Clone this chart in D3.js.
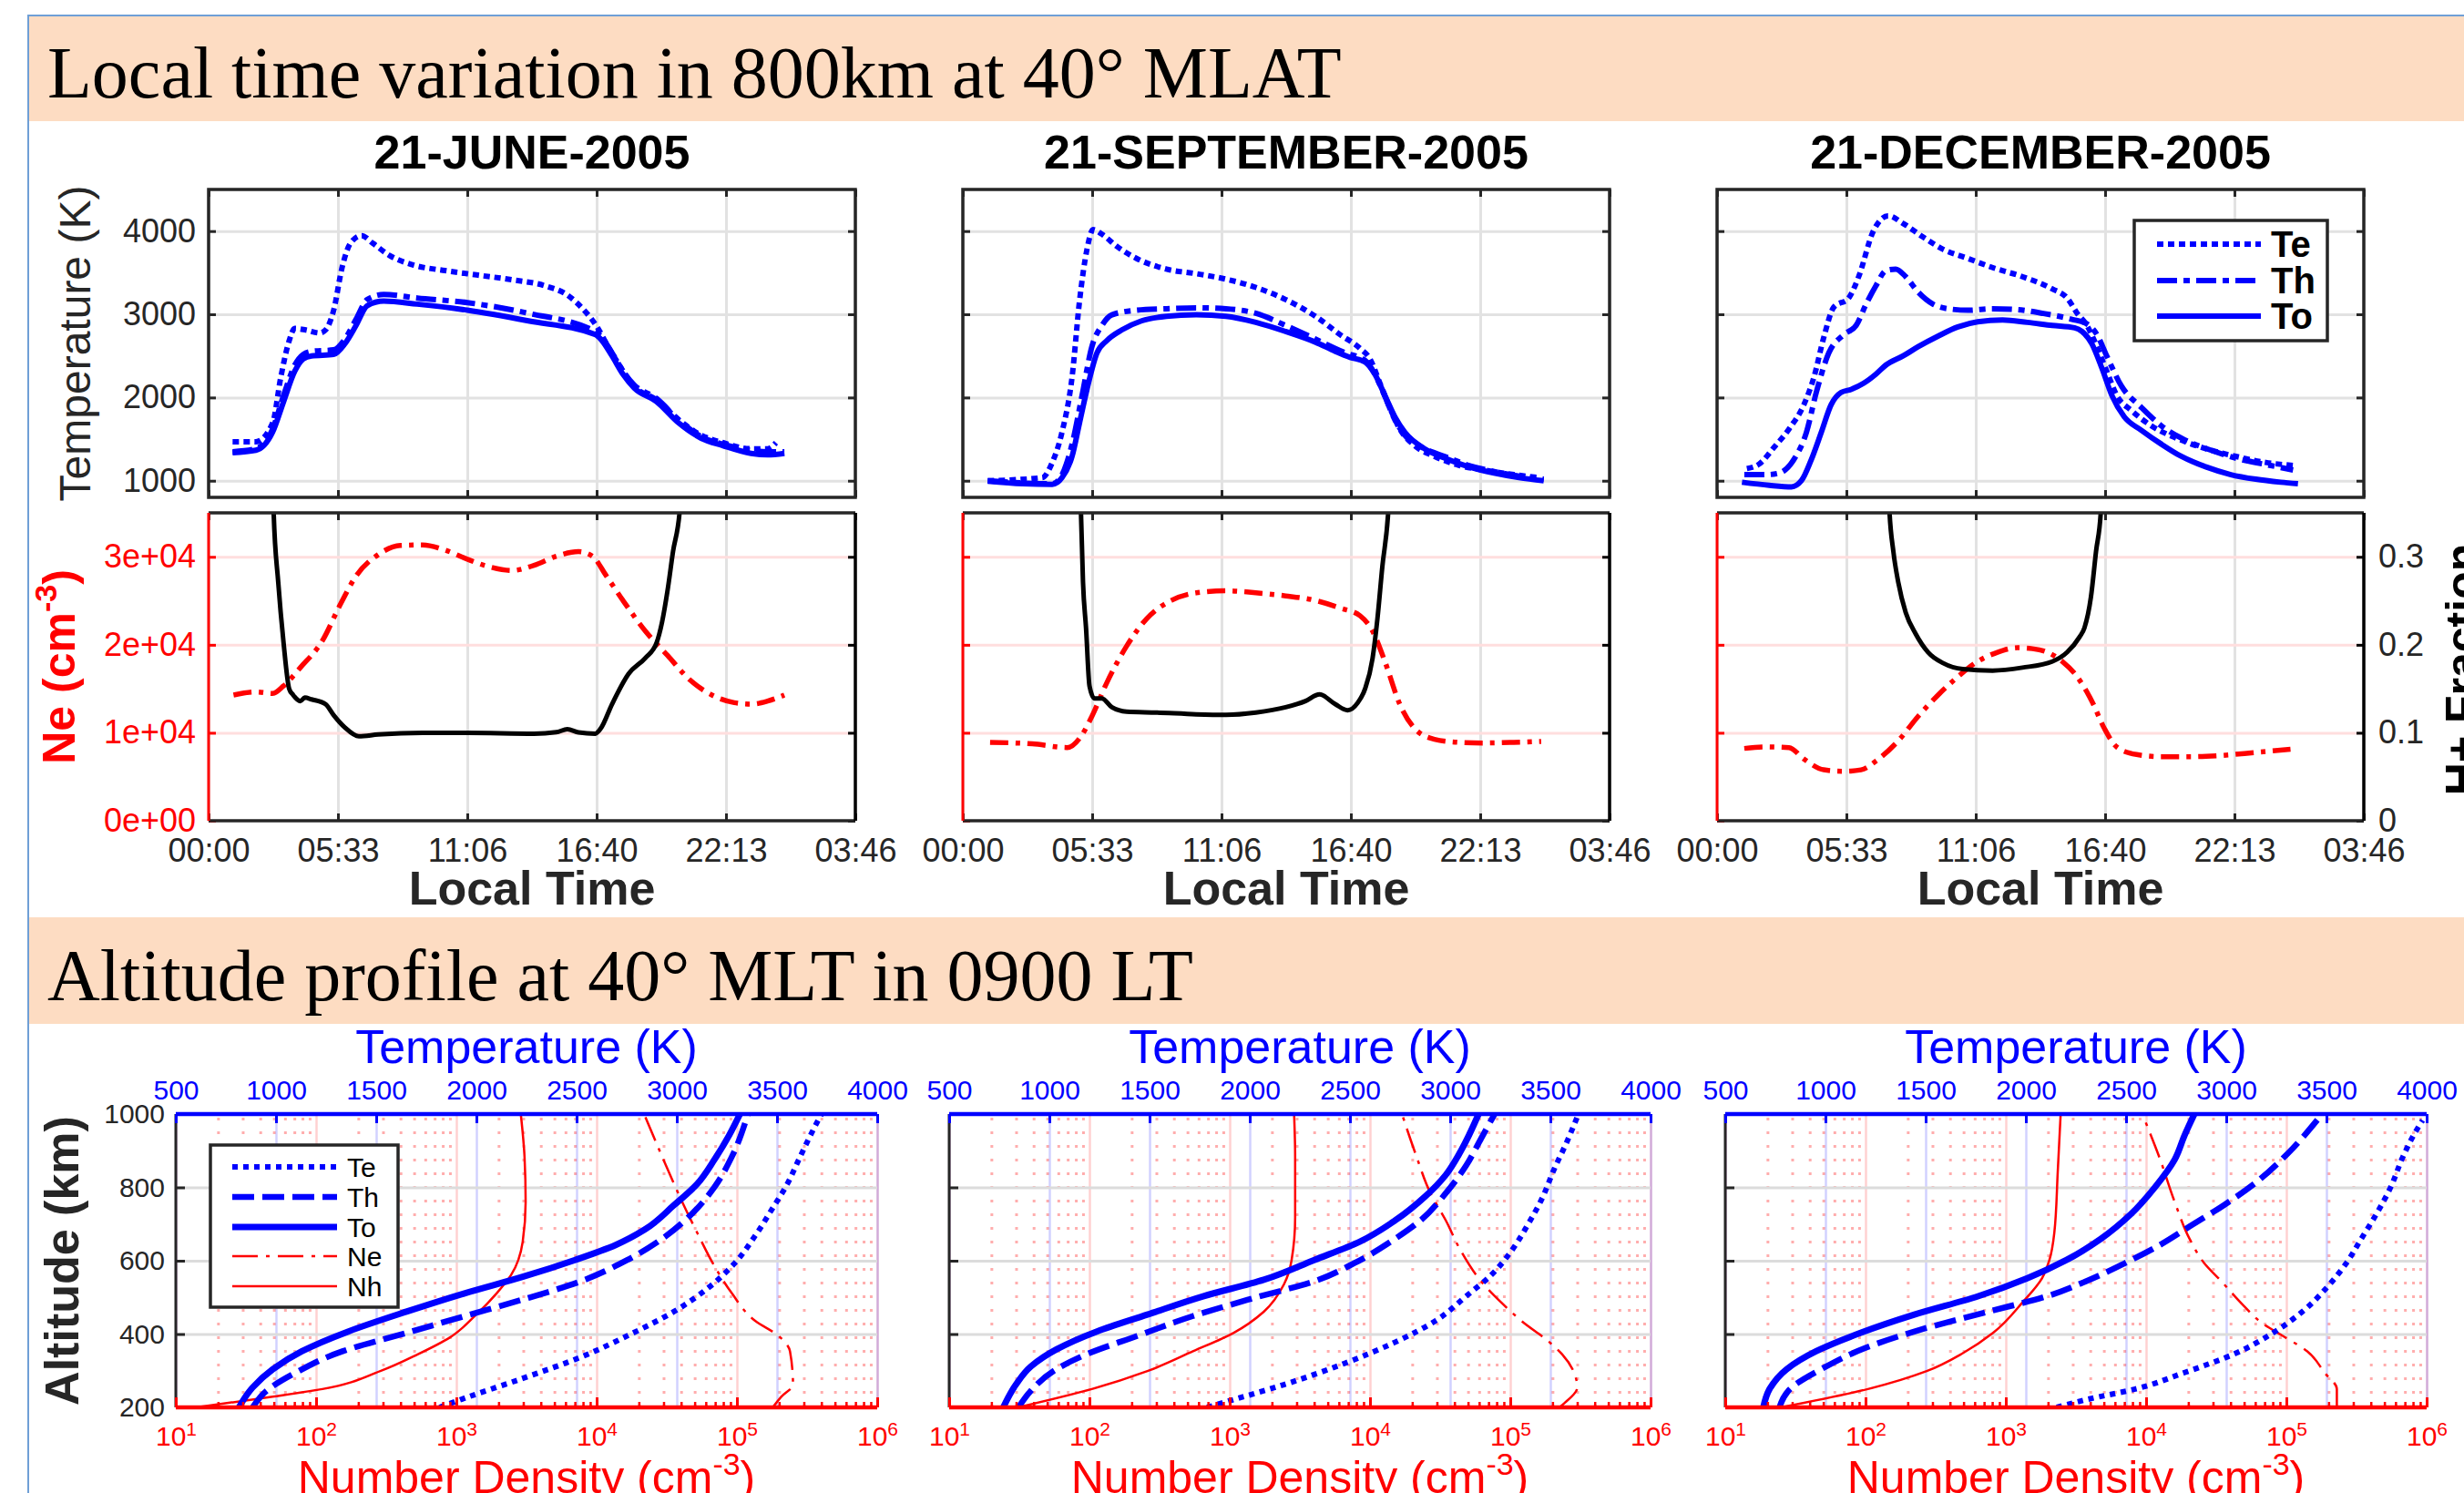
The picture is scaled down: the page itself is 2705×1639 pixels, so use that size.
<!DOCTYPE html>
<html>
<head>
<meta charset="utf-8">
<script src="https://cdn.jsdelivr.net/npm/d3@7/dist/d3.min.js"></script>
<style>html,body{margin:0;padding:0;background:#fff;}svg{display:block;}</style>
</head>
<body>
<script>
// ---------------- DATA ----------------
const bannerTitles = ["Local time variation in 800km at 40\u00B0 MLAT", "Altitude profile at 40\u00B0 MLT in 0900 LT"];
const panelTitles = ["21-JUNE-2005", "21-SEPTEMBER-2005", "21-DECEMBER-2005"];
const timeTicks = [0, 5.5533, 11.1067, 16.66, 22.2133, 27.7667];
const timeTickLabels = ["00:00", "05:33", "11:06", "16:40", "22:13", "03:46"];
const tempTicks = [1000, 2000, 3000, 4000];
const neTicks = [0, 10000, 20000, 30000];
const neTickLabels = ["0e+00", "1e+04", "2e+04", "3e+04"];
const hfTicks = [0, 0.1, 0.2, 0.3];
const hfTickLabels = ["0", "0.1", "0.2", "0.3"];
const tempLegend = ["Te", "Th", "To"];
const profLegend = ["Te", "Th", "To", "Ne", "Nh"];
const profTempTicks = [500, 1000, 1500, 2000, 2500, 3000, 3500, 4000];
const altTicks = [200, 400, 600, 800, 1000];
const densDecades = [10, 100, 1000, 10000, 100000, 1000000];

// local time (hours) vs temperature (K)
const juneTe = [[1.03,1468],[2.03,1468],[2.75,1695],[3.10,2244],[3.46,2683],[3.70,2830],[4.18,2811],[4.78,2775],[5.02,2811],[5.37,3049],[5.73,3561],[6.09,3854],[6.57,3945],[7.05,3854],[7.76,3708],[8.72,3598],[10.15,3525],[11.58,3470],[13.02,3415],[14.45,3342],[15.40,3232],[16.12,3049],[16.72,2830],[17.08,2646],[17.55,2427],[18.27,2134],[19.23,1970],[20.18,1732],[21.14,1549],[22.09,1457],[23.29,1384],[24.00,1384],[24.36,1457]];
const juneTh = [[1.03,1348],[2.03,1384],[2.75,1622],[3.22,2025],[3.70,2390],[4.06,2518],[4.42,2555],[5.37,2573],[5.85,2701],[6.33,2939],[6.81,3177],[7.52,3239],[8.96,3195],[11.11,3140],[13.73,3012],[16.60,2793],[16.84,2738],[17.32,2537],[17.79,2317],[18.27,2152],[19.23,1988],[20.18,1732],[21.14,1531],[22.09,1439],[23.29,1366],[24.00,1348],[24.72,1348]];
const juneTo = [[1.03,1337],[2.03,1366],[2.75,1585],[3.22,1951],[3.70,2317],[4.06,2463],[4.42,2500],[5.37,2518],[5.85,2646],[6.33,2866],[6.81,3104],[7.52,3159],[8.96,3122],[11.11,3049],[13.73,2921],[16.60,2756],[16.84,2701],[17.32,2500],[17.79,2280],[18.27,2116],[19.23,1951],[20.18,1695],[21.14,1512],[22.09,1421],[23.29,1329],[24.00,1311],[24.72,1329]];
const sepTe = [[1.07,1000],[3.41,1037],[3.84,1220],[4.26,1585],[4.69,2244],[5.01,3159],[5.33,3780],[5.59,4018],[5.97,3963],[6.61,3817],[7.46,3671],[8.74,3543],[10.02,3488],[11.30,3422],[12.58,3323],[13.86,3177],[15.14,2976],[16.20,2756],[17.05,2591],[17.48,2463],[17.91,2171],[18.33,1878],[18.76,1622],[19.40,1421],[20.25,1293],[21.32,1183],[22.38,1128],[23.66,1073],[24.73,1037]];
const sepTh = [[1.07,1000],[3.84,963],[4.26,1073],[4.69,1439],[5.12,2025],[5.54,2610],[5.97,2866],[6.40,2994],[7.46,3049],[8.74,3067],[10.02,3078],[11.30,3067],[12.58,3012],[13.86,2866],[15.14,2701],[16.41,2537],[17.27,2445],[17.69,2281],[18.12,2014],[18.55,1732],[18.97,1549],[19.83,1384],[20.68,1293],[21.74,1183],[22.81,1110],[23.88,1055],[24.94,1018]];
const sepTo = [[1.07,993],[2.56,963],[3.84,956],[4.26,1037],[4.69,1293],[5.01,1695],[5.33,2098],[5.76,2537],[6.18,2683],[6.82,2811],[7.67,2921],[8.74,2976],[10.02,2994],[11.30,2976],[12.58,2903],[13.86,2793],[15.14,2665],[15.99,2555],[16.63,2482],[17.27,2427],[17.69,2281],[18.12,2025],[18.55,1768],[18.97,1585],[19.83,1384],[20.68,1274],[21.74,1165],[22.81,1091],[23.88,1037],[24.94,1000]];
const decTe = [[1.28,1146],[1.81,1201],[2.45,1402],[3.09,1622],[3.73,1915],[4.16,2244],[4.58,2720],[5.01,3085],[5.65,3195],[6.08,3452],[6.71,4000],[7.35,4183],[7.99,4091],[8.85,3927],[9.70,3781],[10.77,3671],[11.83,3561],[13.11,3452],[14.39,3305],[15.03,3195],[15.46,3012],[15.88,2866],[16.31,2610],[16.73,2317],[17.16,2025],[17.80,1842],[18.65,1659],[19.72,1512],[20.99,1384],[22.27,1293],[23.55,1220],[24.73,1183]];
const decTh = [[1.17,1073],[2.13,1073],[2.66,1091],[3.30,1256],[3.84,1585],[4.26,2061],[4.80,2537],[5.44,2756],[5.97,2866],[6.40,3122],[6.82,3342],[7.25,3525],[7.67,3543],[8.10,3452],[8.63,3268],[9.27,3122],[9.91,3067],[10.77,3049],[11.83,3067],[12.90,3056],[13.97,3012],[15.24,2939],[15.88,2884],[16.31,2756],[16.73,2500],[17.37,2134],[18.23,1878],[19.08,1659],[19.93,1512],[21.21,1366],[22.49,1256],[23.77,1183],[24.73,1128]];
const decTo = [[1.07,982],[2.24,945],[3.20,927],[3.62,1000],[4.05,1256],[4.48,1585],[4.90,1915],[5.33,2061],[5.76,2098],[6.29,2171],[6.82,2281],[7.25,2390],[7.99,2500],[8.63,2610],[9.49,2738],[10.34,2848],[11.19,2910],[12.26,2932],[13.32,2903],[14.39,2866],[15.35,2837],[15.67,2793],[16.09,2646],[16.52,2354],[16.95,2025],[17.48,1768],[18.23,1604],[19.08,1439],[19.93,1293],[21.00,1165],[22.06,1073],[23.13,1018],[24.20,982],[24.94,963]];

// local time (hours) vs electron density (cm^-3)
const juneNe = [[1.07,14290],[2.03,14640],[2.75,14460],[3.22,15330],[3.94,17410],[4.90,20530],[5.61,24350],[6.33,27820],[7.28,30250],[8.24,31290],[9.19,31360],[10.15,30770],[11.11,29730],[12.06,28860],[13.02,28440],[13.97,29030],[14.93,30070],[15.88,30590],[16.48,30070],[17.08,27820],[17.79,25040],[18.75,21570],[19.70,18800],[20.66,16020],[21.61,14290],[22.57,13420],[23.29,13250],[24.00,13600],[24.72,14290]];
const sepNe = [[1.17,8910],[2.98,8740],[4.48,8320],[5.12,9780],[5.54,11860],[6.18,15680],[7.03,19840],[7.89,22960],[8.95,25040],[10.02,25910],[11.30,26150],[12.58,25910],[13.86,25560],[15.14,25040],[16.20,24180],[17.05,23310],[17.59,21570],[18.12,18110],[18.76,13250],[19.40,10480],[20.25,9260],[21.32,8910],[22.38,8840],[23.66,8910],[24.83,9020]];
const decNe = [[1.17,8220],[2.03,8390],[3.09,8320],[3.73,7010],[4.58,5790],[5.44,5620],[6.18,5790],[6.93,7010],[7.78,9090],[8.63,11860],[9.49,14290],[10.34,16370],[11.19,18110],[12.04,19150],[12.90,19670],[13.54,19560],[14.18,19150],[14.82,18110],[15.46,16370],[16.09,13600],[16.63,10480],[17.16,8390],[18.01,7530],[19.08,7280],[20.36,7280],[21.64,7420],[23.13,7770],[24.62,8120]];

// local time (hours) vs H+ fraction
const juneHf = [[2.70,0.45],[2.79,0.353],[2.99,0.271],[3.22,0.202],[3.46,0.150],[3.63,0.143],[3.94,0.136],[4.13,0.140],[4.42,0.138],[5.02,0.1325],[5.37,0.120],[5.85,0.106],[6.45,0.096],[7.28,0.098],[9.19,0.100],[11.11,0.100],[13.97,0.099],[14.93,0.1006],[15.40,0.104],[15.88,0.1005],[16.60,0.099],[16.84,0.105],[17.32,0.1325],[18.03,0.167],[18.75,0.185],[19.23,0.202],[19.47,0.226],[19.70,0.261],[19.94,0.306],[20.23,0.353],[20.40,0.42]];
const sepHf = [[4.98,0.45],[5.07,0.353],[5.16,0.271],[5.29,0.219],[5.44,0.153],[5.65,0.139],[5.97,0.139],[6.40,0.129],[7.03,0.124],[8.31,0.123],[10.02,0.121],[11.30,0.1204],[12.58,0.123],[13.86,0.129],[14.71,0.136],[15.31,0.1436],[15.99,0.1325],[16.52,0.1256],[16.95,0.134],[17.27,0.150],[17.59,0.1845],[17.80,0.2296],[18.01,0.2886],[18.27,0.353],[18.40,0.42]];
const decHf = [[7.30,0.42],[7.40,0.353],[7.57,0.306],[7.78,0.271],[8.10,0.2366],[8.53,0.2123],[9.06,0.1915],[9.70,0.1793],[10.55,0.1724],[11.83,0.1707],[13.11,0.1741],[14.39,0.181],[15.03,0.1915],[15.56,0.2088],[15.77,0.219],[16.05,0.254],[16.27,0.306],[16.48,0.353],[16.58,0.42]];

// altitude (km) vs temperature (K)
const junProfTe = [[200,1816],[225,1941],[279,2231],[337,2521],[403,2782],[461,2985],[527,3159],[594,3290],[668,3391],[743,3478],[809,3551],[876,3609],[942,3667],[988,3710],[1000,3722]];
const junProfTh = [[200,883],[246,955],[295,1100],[353,1332],[403,1651],[449,1941],[494,2231],[544,2521],[602,2753],[660,2927],[726,3072],[801,3188],[884,3275],[1000,3355]];
const junProfTo = [[200,815],[254,883],[304,984],[353,1129],[407,1361],[461,1651],[511,1941],[556,2231],[602,2492],[643,2695],[685,2840],[751,2985],[809,3101],[876,3188],[942,3261],[1000,3315]];
const sepProfTe = [[200,1787],[221,1918],[262,2170],[320,2473],[378,2726],[436,2927],[503,3079],[561,3205],[627,3306],[693,3382],[768,3457],[851,3520],[926,3584],[992,3634]];
const sepProfTh = [[200,846],[246,909],[304,1035],[345,1186],[395,1439],[449,1716],[498,2019],[544,2322],[594,2524],[660,2726],[710,2852],[784,2978],[859,3079],[934,3155],[1000,3222]];
const sepProfTo = [[200,770],[262,833],[312,909],[358,1035],[407,1237],[453,1489],[503,1767],[548,2070],[602,2322],[652,2549],[710,2726],[776,2877],[834,2978],[900,3054],[1000,3142]];
const decProfTe = [[200,2154],[221,2301],[250,2546],[295,2792],[345,3037],[403,3233],[461,3380],[527,3502],[594,3600],[660,3674],[726,3748],[801,3821],[884,3882],[950,3943],[983,3980]];
const decProfTh = [[200,770],[254,831],[304,978],[362,1199],[411,1468],[461,1811],[503,2105],[544,2301],[594,2497],[643,2669],[693,2816],[751,2987],[818,3159],[892,3306],[1000,3478]];
const decProfTo = [[200,690],[250,721],[304,806],[353,953],[403,1174],[453,1444],[503,1762],[552,2007],[602,2203],[660,2375],[726,2522],[801,2645],[876,2743],[942,2792],[1000,2841]];

// altitude (km) vs number density (cm^-3)
const junProfNe = [[200,180000],[229,207000],[262,251000],[353,239000],[395,198000],[436,135000],[511,92100],[585,69200],[677,52000],[776,39000],[884,29300],[1000,21800]];
const junProfNh = [[200,14],[229,49],[250,111],[299,287],[345,533],[391,902],[453,1386],[511,1936],[561,2456],[652,2972],[760,3118],[884,3061],[1000,2880]];
const sepProfNe = [[200,224000],[212,244000],[254,300000],[345,234000],[378,190000],[436,120000],[486,86300],[544,61900],[627,44400],[710,34700],[784,27000],[892,21100],[1000,16900]];
const sepProfNh = [[200,31],[250,104],[299,259],[353,547],[403,1062],[461,1749],[536,2439],[602,2762],[718,2927],[884,2927],[1000,2877]];
const decProfNe = [[200,229000],[250,229000],[295,187000],[353,141000],[395,94200],[428,68200],[478,49400],[544,34400],[594,25900],[660,20400],[760,16000],[876,12600],[1000,9400]];
const decProfNh = [[200,25],[250,104],[299,273],[349,500],[403,810],[486,1313],[552,1811],[602,2046],[677,2218],[842,2345],[1000,2460]];

// ---------------- DRAWING ----------------
const W = 2705, H = 1639;
const SANS = "'Liberation Sans', Arial, Helvetica, sans-serif";
const SERIF = "'Liberation Serif', 'Times New Roman', serif";
const AX = "#262626", BLUE = "#0000ff", RED = "#ff0000";
const fmtInt = d3.format("d");

const svg = d3.select("body").append("svg").attr("width", W).attr("height", H);
const defs = svg.append("defs");
svg.append("rect").attr("width", W).attr("height", H).attr("fill", "#fff");

// frame + banners
[[18, 133, 107], [1007, 1124, 1098]].forEach((b, i) => {
  svg.append("rect").attr("x", 31).attr("y", b[0]).attr("width", W - 31).attr("height", b[1] - b[0]).attr("fill", "#fddcc2");
  svg.append("text").attr("x", 52).attr("y", b[2]).attr("font-family", SERIF).attr("font-size", 80)
    .attr("fill", "#000").text(bannerTitles[i]);
});
svg.append("line").attr("x1", 31).attr("x2", 31).attr("y1", 17).attr("y2", H).attr("stroke", "#6f9fd6").attr("stroke-width", 2);
svg.append("line").attr("x1", 30).attr("x2", W).attr("y1", 17).attr("y2", 17).attr("stroke", "#6f9fd6").attr("stroke-width", 2);

function cleanAxis(g, color, width) {
  g.select(".domain").remove();
  g.selectAll(".tick line").attr("stroke", color).attr("stroke-width", width);
  g.selectAll(".tick text").filter(function () { return !this.textContent; }).remove();
  return g;
}
function styleText(g, color, size, weight) {
  g.selectAll(".tick text").attr("fill", color).attr("font-size", size)
    .attr("font-family", SANS).attr("font-weight", weight || "normal");
  return g;
}
function addPath(g, d, color, width, dash) {
  const p = g.append("path").attr("d", d).attr("fill", "none").attr("stroke", color)
    .attr("stroke-width", width).attr("stroke-linejoin", "round");
  if (dash) p.attr("stroke-dasharray", dash);
  return p;
}

// style definitions for series
const topStyle = {
  te: { c: BLUE, w: 6, dash: "7,5" },
  th: { c: BLUE, w: 6, dash: "22,7,7,7" },
  to: { c: BLUE, w: 6, dash: null },
  ne: { c: RED, w: 5.5, dash: "20,8,5,8" },
  hf: { c: "#000", w: 5, dash: null }
};
const profStyle = {
  te: { c: BLUE, w: 6, dash: "6,6" },
  th: { c: BLUE, w: 6.5, dash: "24,9" },
  to: { c: BLUE, w: 7, dash: null },
  ne: { c: RED, w: 2.5, dash: "28,9,4,9" },
  nh: { c: RED, w: 2.5, dash: null }
};

// ---- top row ----
const topLefts = [229, 1057, 1885], topW = 710;
const tTop = 208, tBot = 546, nTop = 563, nBot = 901;
const topSets = [
  { te: juneTe, th: juneTh, to: juneTo, ne: juneNe, hf: juneHf },
  { te: sepTe, th: sepTh, to: sepTo, ne: sepNe, hf: sepHf },
  { te: decTe, th: decTh, to: decTo, ne: decNe, hf: decHf }
];

topLefts.forEach((x0, i) => {
  const S = topSets[i];
  const x = d3.scaleLinear().domain([0, 27.7667]).range([x0, x0 + topW]);
  const yT = d3.scaleLinear().domain([800, 4500]).range([tBot, tTop]);
  const yN = d3.scaleLinear().domain([0, 35000]).range([nBot, nTop]);
  const yH = d3.scaleLinear().domain([0, 0.35]).range([nBot, nTop]);

  svg.append("text").attr("x", x0 + topW / 2).attr("y", 185).attr("text-anchor", "middle")
    .attr("font-family", SANS).attr("font-weight", "bold").attr("font-size", 52).attr("fill", "#000")
    .text(panelTitles[i]);

  // grids
  cleanAxis(svg.append("g").attr("transform", `translate(0,${tBot})`)
    .call(d3.axisBottom(x).tickValues(timeTicks).tickSize(-(tBot - tTop)).tickFormat("")), "#e2e2e2", 3);
  cleanAxis(svg.append("g").attr("transform", `translate(${x0},0)`)
    .call(d3.axisLeft(yT).tickValues(tempTicks).tickSize(-topW).tickFormat("")), "#e2e2e2", 3);
  cleanAxis(svg.append("g").attr("transform", `translate(0,${nBot})`)
    .call(d3.axisBottom(x).tickValues(timeTicks).tickSize(-(nBot - nTop)).tickFormat("")), "#e2e2e2", 3);
  cleanAxis(svg.append("g").attr("transform", `translate(${x0},0)`)
    .call(d3.axisLeft(yN).tickValues(neTicks.slice(1)).tickSize(-topW).tickFormat("")), "#ffdede", 3);

  // clips
  defs.append("clipPath").attr("id", "cT" + i).append("rect").attr("x", x0).attr("y", tTop).attr("width", topW).attr("height", tBot - tTop);
  defs.append("clipPath").attr("id", "cN" + i).append("rect").attr("x", x0).attr("y", nTop).attr("width", topW).attr("height", nBot - nTop);

  const lineT = d3.line().x(d => x(d[0])).y(d => yT(d[1])).curve(d3.curveMonotoneX);
  const lineN = d3.line().x(d => x(d[0])).y(d => yN(d[1])).curve(d3.curveMonotoneX);
  const lineH = d3.line().x(d => x(d[0])).y(d => yH(d[1])).curve(d3.curveMonotoneX);

  const gT = svg.append("g").attr("clip-path", `url(#cT${i})`);
  addPath(gT, lineT(S.te), topStyle.te.c, topStyle.te.w, topStyle.te.dash);
  addPath(gT, lineT(S.th), topStyle.th.c, topStyle.th.w, topStyle.th.dash);
  addPath(gT, lineT(S.to), topStyle.to.c, topStyle.to.w, topStyle.to.dash);

  const gN = svg.append("g").attr("clip-path", `url(#cN${i})`);
  addPath(gN, lineN(S.ne), topStyle.ne.c, topStyle.ne.w, topStyle.ne.dash);
  addPath(gN, lineH(S.hf), topStyle.hf.c, topStyle.hf.w, topStyle.hf.dash);

  // temperature axes ticks
  const tl = svg.append("g").attr("transform", `translate(${x0},0)`)
    .call(d3.axisLeft(yT).tickValues(tempTicks).tickSizeInner(-8).tickSizeOuter(0).tickPadding(14)
      .tickFormat(i === 0 ? fmtInt : ""));
  cleanAxis(tl, AX, 3);
  styleText(tl, AX, 36);
  cleanAxis(svg.append("g").attr("transform", `translate(${x0 + topW},0)`)
    .call(d3.axisRight(yT).tickValues(tempTicks).tickSizeInner(-8).tickSizeOuter(0).tickFormat("")), AX, 3);
  cleanAxis(svg.append("g").attr("transform", `translate(0,${tTop})`)
    .call(d3.axisTop(x).tickValues(timeTicks).tickSizeInner(-8).tickSizeOuter(0).tickFormat("")), AX, 3);
  cleanAxis(svg.append("g").attr("transform", `translate(0,${tBot})`)
    .call(d3.axisBottom(x).tickValues(timeTicks).tickSizeInner(-8).tickSizeOuter(0).tickFormat("")), AX, 3);
  svg.append("rect").attr("x", x0).attr("y", tTop).attr("width", topW).attr("height", tBot - tTop)
    .attr("fill", "none").attr("stroke", AX).attr("stroke-width", 3.5);

  // Ne axes
  const nl = svg.append("g").attr("transform", `translate(${x0},0)`)
    .call(d3.axisLeft(yN).tickValues(neTicks).tickSizeInner(-8).tickSizeOuter(0).tickPadding(14)
      .tickFormat((d, k) => i === 0 ? neTickLabels[k] : ""));
  cleanAxis(nl, RED, 3);
  styleText(nl, RED, 36);
  const nr = svg.append("g").attr("transform", `translate(${x0 + topW},0)`)
    .call(d3.axisRight(yH).tickValues(hfTicks).tickSizeInner(-8).tickSizeOuter(0).tickPadding(16)
      .tickFormat((d, k) => i === 2 ? hfTickLabels[k] : ""));
  cleanAxis(nr, "#000", 3);
  styleText(nr, AX, 36);
  cleanAxis(svg.append("g").attr("transform", `translate(0,${nTop})`)
    .call(d3.axisTop(x).tickValues(timeTicks).tickSizeInner(-8).tickSizeOuter(0).tickFormat("")), AX, 3);
  const nb = svg.append("g").attr("transform", `translate(0,${nBot})`)
    .call(d3.axisBottom(x).tickValues(timeTicks).tickSizeInner(-8).tickSizeOuter(0).tickPadding(19)
      .tickFormat((d, k) => timeTickLabels[k]));
  cleanAxis(nb, AX, 3);
  styleText(nb, AX, 36);
  svg.append("line").attr("x1", x0).attr("x2", x0 + topW).attr("y1", nTop).attr("y2", nTop).attr("stroke", AX).attr("stroke-width", 3.5);
  svg.append("line").attr("x1", x0).attr("x2", x0 + topW).attr("y1", nBot).attr("y2", nBot).attr("stroke", AX).attr("stroke-width", 3.5);
  svg.append("line").attr("x1", x0 + topW).attr("x2", x0 + topW).attr("y1", nTop).attr("y2", nBot).attr("stroke", "#000").attr("stroke-width", 3.5);
  svg.append("line").attr("x1", x0).attr("x2", x0).attr("y1", nTop).attr("y2", nBot).attr("stroke", RED).attr("stroke-width", 3);

  svg.append("text").attr("x", x0 + topW / 2).attr("y", 993).attr("text-anchor", "middle")
    .attr("font-family", SANS).attr("font-weight", "bold").attr("font-size", 52).attr("fill", AX).text("Local Time");

  if (i === 0) {
    svg.append("text").attr("transform", "translate(99,377) rotate(-90)").attr("text-anchor", "middle")
      .attr("font-family", SANS).attr("font-size", 48).attr("fill", AX).text("Temperature (K)");
    const t = svg.append("text").attr("transform", "translate(82,732) rotate(-90)").attr("text-anchor", "middle")
      .attr("font-family", SANS).attr("font-weight", "bold").attr("font-size", 50).attr("fill", RED);
    t.append("tspan").text("Ne (cm");
    t.append("tspan").attr("dy", -20).attr("font-size", 34).text("-3");
    t.append("tspan").attr("dy", 20).text(")");
  }
  if (i === 2) {
    svg.append("text").attr("transform", "translate(2720,735) rotate(-90)").attr("text-anchor", "middle")
      .attr("font-family", SANS).attr("font-weight", "bold").attr("font-size", 50).attr("fill", "#000").text("H+ Fraction");
    // legend
    const lg = svg.append("g");
    lg.append("rect").attr("x", 2343).attr("y", 242).attr("width", 212).attr("height", 132)
      .attr("fill", "#fff").attr("stroke", AX).attr("stroke-width", 3.5);
    const keys = ["te", "th", "to"], ys = [268, 308, 347];
    keys.forEach((k, j) => {
      const st = topStyle[k];
      addPath(lg, d3.line()([[2368, ys[j]], [2482, ys[j]]]), st.c, st.w, st.dash);
      lg.append("text").attr("x", 2493).attr("y", ys[j]).attr("dy", "0.36em").attr("font-family", SANS)
        .attr("font-weight", "bold").attr("font-size", 40).attr("fill", "#000").text(tempLegend[j]);
    });
  }
});

// ---- bottom row ----
const botLefts = [193, 1042, 1894], botW = 770, bTop = 1223, bBot = 1545;
const profSets = [
  { te: junProfTe, th: junProfTh, to: junProfTo, ne: junProfNe, nh: junProfNh },
  { te: sepProfTe, th: sepProfTh, to: sepProfTo, ne: sepProfNe, nh: sepProfNh },
  { te: decProfTe, th: decProfTh, to: decProfTo, ne: decProfNe, nh: decProfNh }
];
const minorTicks = [];
densDecades.slice(0, 5).forEach(d => { for (let k = 2; k <= 9; k++) minorTicks.push(k * d); });

botLefts.forEach((x0, i) => {
  const S = profSets[i];
  const xT = d3.scaleLinear().domain([500, 4000]).range([x0, x0 + botW]);
  const xN = d3.scaleLog().domain([10, 1e6]).range([x0, x0 + botW]);
  const yA = d3.scaleLinear().domain([200, 1000]).range([bBot, bTop]);
  const hgt = bBot - bTop;

  // grids
  cleanAxis(svg.append("g").attr("transform", `translate(0,${bBot})`)
    .call(d3.axisBottom(xN).tickValues(minorTicks).tickSize(-hgt).tickFormat("")), "rgba(255,0,0,0.32)", 3)
    .selectAll(".tick line").attr("stroke-dasharray", "3,12");
  cleanAxis(svg.append("g").attr("transform", `translate(0,${bBot})`)
    .call(d3.axisBottom(xN).tickValues(densDecades).tickSize(-hgt).tickFormat("")), "rgba(255,0,0,0.18)", 2.5);
  cleanAxis(svg.append("g").attr("transform", `translate(0,${bTop})`)
    .call(d3.axisTop(xT).tickValues(profTempTicks).tickSize(-hgt).tickFormat("")), "rgba(0,0,255,0.18)", 2.5);
  cleanAxis(svg.append("g").attr("transform", `translate(${x0},0)`)
    .call(d3.axisLeft(yA).tickValues([400, 600, 800]).tickSize(-botW).tickFormat("")), "#dcdcdc", 3);

  defs.append("clipPath").attr("id", "cB" + i).append("rect").attr("x", x0).attr("y", bTop - 4).attr("width", botW).attr("height", hgt + 4);
  const g = svg.append("g").attr("clip-path", `url(#cB${i})`);
  const lineT = d3.line().x(d => xT(d[1])).y(d => yA(d[0])).curve(d3.curveMonotoneY);
  const lineN = d3.line().x(d => xN(d[1])).y(d => yA(d[0])).curve(d3.curveMonotoneY);
  addPath(g, lineN(S.nh), profStyle.nh.c, profStyle.nh.w, profStyle.nh.dash);
  addPath(g, lineN(S.ne), profStyle.ne.c, profStyle.ne.w, profStyle.ne.dash);
  addPath(g, lineT(S.te), profStyle.te.c, profStyle.te.w, profStyle.te.dash);
  addPath(g, lineT(S.th), profStyle.th.c, profStyle.th.w, profStyle.th.dash);
  addPath(g, lineT(S.to), profStyle.to.c, profStyle.to.w, profStyle.to.dash);

  // left axis
  const la = svg.append("g").attr("transform", `translate(${x0},0)`)
    .call(d3.axisLeft(yA).tickValues(altTicks).tickSizeInner(-10).tickSizeOuter(0).tickPadding(12)
      .tickFormat(i === 0 ? fmtInt : ""));
  cleanAxis(la, AX, 3);
  styleText(la, AX, 30);
  svg.append("line").attr("x1", x0).attr("x2", x0).attr("y1", bTop).attr("y2", bBot).attr("stroke", AX).attr("stroke-width", 3);

  // top temperature axis
  const ta = svg.append("g").attr("transform", `translate(0,${bTop})`)
    .call(d3.axisTop(xT).tickValues(profTempTicks).tickSizeInner(-10).tickSizeOuter(0).tickPadding(16).tickFormat(fmtInt));
  cleanAxis(ta, BLUE, 3);
  styleText(ta, BLUE, 30);
  svg.append("line").attr("x1", x0).attr("x2", x0 + botW).attr("y1", bTop).attr("y2", bTop).attr("stroke", BLUE).attr("stroke-width", 4.5);

  // bottom density axis
  cleanAxis(svg.append("g").attr("transform", `translate(0,${bBot})`)
    .call(d3.axisBottom(xN).tickValues(minorTicks).tickSizeInner(-6).tickSizeOuter(0).tickFormat("")), RED, 2.5);
  const ba = svg.append("g").attr("transform", `translate(0,${bBot})`)
    .call(d3.axisBottom(xN).tickValues(densDecades).tickSizeInner(-11).tickSizeOuter(0).tickPadding(21)
      .tickFormat(d => "10"));
  ba.select(".domain").remove();
  ba.selectAll(".tick line").attr("stroke", RED).attr("stroke-width", 3);
  ba.selectAll(".tick text").each(function (d) {
    const t = d3.select(this);
    t.text(null).attr("fill", RED).attr("font-family", SANS).attr("font-size", 30);
    t.append("tspan").text("10");
    t.append("tspan").attr("dy", "-0.55em").attr("font-size", 21).text(Math.round(Math.log10(d)));
  });
  svg.append("line").attr("x1", x0).attr("x2", x0 + botW).attr("y1", bBot).attr("y2", bBot).attr("stroke", RED).attr("stroke-width", 4.5);

  // labels
  svg.append("text").attr("x", x0 + botW / 2).attr("y", 1167).attr("text-anchor", "middle")
    .attr("font-family", SANS).attr("font-size", 52).attr("fill", BLUE).text("Temperature (K)");
  const nd = svg.append("text").attr("x", x0 + botW / 2).attr("y", 1639).attr("text-anchor", "middle")
    .attr("font-family", SANS).attr("font-size", 50).attr("fill", RED);
  nd.append("tspan").text("Number Density (cm");
  nd.append("tspan").attr("dy", -20).attr("font-size", 34).text("-3");
  nd.append("tspan").attr("dy", 20).text(")");

  if (i === 0) {
    svg.append("text").attr("transform", "translate(86,1384) rotate(-90)").attr("text-anchor", "middle")
      .attr("font-family", SANS).attr("font-weight", "bold").attr("font-size", 52).attr("fill", AX).text("Altitude (km)");
    const lg = svg.append("g");
    lg.append("rect").attr("x", 231).attr("y", 1257).attr("width", 206).attr("height", 178)
      .attr("fill", "#fff").attr("stroke", AX).attr("stroke-width", 3.5);
    const keys = ["te", "th", "to", "ne", "nh"], ys = [1281, 1314, 1347, 1379, 1412];
    keys.forEach((k, j) => {
      const st = profStyle[k];
      addPath(lg, d3.line()([[255, ys[j]], [370, ys[j]]]), st.c, st.w, st.dash);
      lg.append("text").attr("x", 381).attr("y", ys[j]).attr("dy", "0.36em").attr("font-family", SANS)
        .attr("font-size", 30).attr("fill", "#000").text(profLegend[j]);
    });
  }
});
</script>
</body>
</html>
